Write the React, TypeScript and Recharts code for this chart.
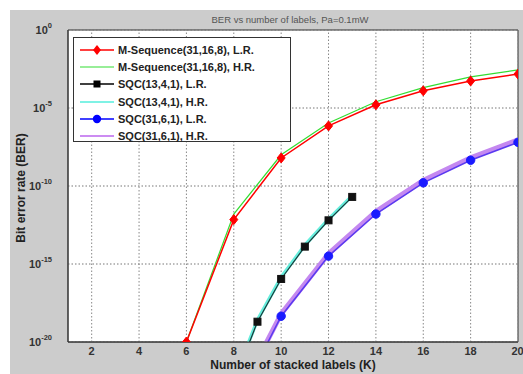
import React from 'react';
import { LineChart, Line, XAxis, YAxis, ReferenceArea, ReferenceLine } from 'recharts';

const xTicks = [2, 4, 6, 8, 10, 12, 14, 16, 18, 20];
const yTicks = [1e-20, 1e-15, 1e-10, 1e-5, 1];
const yTickExp = ['-20', '-15', '-10', '-5', '0'];

const title = 'BER vs number of labels, Pa=0.1mW';
const xLabel = 'Number of stacked labels (K)';
const yLabel = 'Bit error rate (BER)';

const mX = [6, 8, 10, 12, 14, 16, 18, 20];
const mLR = [1e-20, 7e-13, 6.3e-9, 7.1e-7, 1.6e-5, 1.26e-4, 5.4e-4, 1.5e-3];
const mHR = [1e-20, 1.6e-12, 1e-8, 1.1e-6, 2.5e-5, 2e-4, 1e-3, 2.75e-3];

const s13X = [8, 9, 10, 11, 12, 13];
const s13LR = [2.5e-23, 2.0e-19, 1.1e-16, 1.3e-14, 6.3e-13, 2e-11];
const s13HR = [3.5e-23, 2.6e-19, 1.4e-16, 1.6e-14, 7.5e-13, 2.4e-11];

const s31X = [8, 10, 12, 14, 16, 18, 20];
const s31LR = [5e-25, 4.5e-19, 3.2e-15, 1.6e-12, 1.6e-10, 4.5e-9, 6.3e-8];
const s31HR = [8e-25, 6.3e-19, 4.5e-15, 2.3e-12, 2.3e-10, 6.5e-9, 9e-8];

const legendNames = [
  'M-Sequence(31,16,8), L.R.',
  'M-Sequence(31,16,8), H.R.',
  'SQC(13,4,1), L.R.',
  'SQC(13,4,1), H.R.',
  'SQC(31,6,1), L.R.',
  'SQC(31,6,1), H.R.',
];

const toPts = (xs: number[], ys: number[]) => xs.map((x, i) => ({ x, y: ys[i] }));

const dMLR = toPts(mX, mLR);
const dMHR = toPts(mX, mHR);
const d13LR = toPts(s13X, s13LR);
const d13HR = toPts(s13X, s13HR);
const d31LR = toPts(s31X, s31LR);
const d31HR = toPts(s31X, s31HR);

const diamond = (color: string) => (p: any) => {
  const { cx, cy, index } = p;
  if (cx == null || cy == null) return <g key={index} />;
  return (
    <path key={index} d={`M${cx},${cy - 5}L${cx + 4},${cy}L${cx},${cy + 5}L${cx - 4},${cy}Z`} fill={color} stroke={color} />
  );
};
const square = (color: string) => (p: any) => {
  const { cx, cy, index } = p;
  if (cx == null || cy == null) return <g key={index} />;
  return <rect key={index} x={cx - 3.5} y={cy - 3.5} width={7} height={7} fill={color} stroke={color} />;
};
const circle = (color: string) => (p: any) => {
  const { cx, cy, index } = p;
  if (cx == null || cy == null) return <g key={index} />;
  return <circle key={index} cx={cx} cy={cy} r={4.2} fill={color} stroke={color} />;
};

const YTick = (props: any) => {
  const { x, y, index } = props;
  return (
    <text x={x - 8} y={y + 4} textAnchor="end" fontFamily="Liberation Sans, Arial, sans-serif" fontSize={11} fontWeight="bold" fill="#333">
      10
      <tspan dy={-6} fontSize={7.5}>{yTickExp[index]}</tspan>
    </text>
  );
};

const legendStyles = [
  { color: '#ff0000', w: 1.5, marker: 'diamond' },
  { color: '#33dd33', w: 1.2, marker: '' },
  { color: '#000000', w: 1.5, marker: 'square' },
  { color: '#55eedd', w: 1.5, marker: '' },
  { color: '#0000ff', w: 1.5, marker: 'circle' },
  { color: '#bb66ee', w: 1.5, marker: '' },
];

export default function App() {
  return (
    <div style={{ position: 'absolute', left: 0, top: 0, width: 523, height: 374, background: '#ffffff' }}>
      <div style={{ position: 'absolute', left: 10, top: 10, width: 513, height: 364, background: '#cccccc' }} />
      <div style={{ position: 'absolute', left: 0, top: 0 }}>
        <LineChart width={523} height={374} margin={{ top: 30, right: 5, bottom: 0, left: 0 }}>
          <ReferenceArea x1={1} x2={20} y1={1e-20} y2={1} fill="#ffffff" fillOpacity={1} stroke="#333" strokeWidth={1} ifOverflow="visible" />
          <XAxis
            type="number"
            dataKey="x"
            domain={[1, 20]}
            ticks={xTicks}
            allowDataOverflow
            height={32}
            tickLine={false}
            tickSize={3}
            tickMargin={2}
            axisLine={{ stroke: '#333' }}
            tick={{ fontSize: 11, fontWeight: 'bold', fill: '#333', fontFamily: 'Liberation Sans, Arial, sans-serif' }}
          />
          <YAxis
            type="number"
            dataKey="y"
            scale="log"
            domain={[1e-20, 1]}
            ticks={yTicks}
            allowDataOverflow
            width={68}
            tickLine={false}
            axisLine={{ stroke: '#333' }}
            tick={<YTick />}
          />
          {xTicks.map((t) => (
            <ReferenceLine key={`vx${t}`} x={t} stroke="#888" strokeDasharray="1.5 2" ifOverflow="visible" />
          ))}
          {yTicks.map((t) => (
            <ReferenceLine key={`hy${t}`} y={t} stroke="#777" strokeDasharray="1.5 2" ifOverflow="visible" />
          ))}
          <Line data={dMHR} dataKey="y" type="linear" stroke="#33dd33" strokeWidth={1.2} dot={false} isAnimationActive={false} />
          <Line data={dMLR} dataKey="y" type="linear" stroke="#ff0000" strokeWidth={1.5} dot={diamond('#ff0000')} isAnimationActive={false} />
          <Line data={d13HR} dataKey="y" type="linear" stroke="#66eedd" strokeWidth={3.5} dot={false} isAnimationActive={false} />
          <Line data={d13LR} dataKey="y" type="linear" stroke="#1a3a3a" strokeWidth={1.2} dot={square('#111')} isAnimationActive={false} />
          <Line data={d31HR} dataKey="y" type="linear" stroke="#c488f0" strokeWidth={5} dot={false} isAnimationActive={false} />
          <Line data={d31LR} dataKey="y" type="linear" stroke="#5a3af0" strokeWidth={1.5} dot={circle('#1a1aff')} isAnimationActive={false} />
        </LineChart>
      </div>
      <svg width={523} height={374} style={{ position: 'absolute', left: 0, top: 0, pointerEvents: 'none' }}>
        <text x={290} y={23} textAnchor="middle" fontSize={9.5} fill="#555" fontFamily="Liberation Sans, Arial, sans-serif">{title}</text>
        <text x={293} y={369} textAnchor="middle" fontSize={12} fontWeight="bold" fill="#222" fontFamily="Liberation Sans, Arial, sans-serif">{xLabel}</text>
        <text x={0} y={0} transform="translate(25,188) rotate(-90)" textAnchor="middle" fontSize={12} fontWeight="bold" fill="#222" fontFamily="Liberation Sans, Arial, sans-serif">{yLabel}</text>
      </svg>
      <div
        style={{
          position: 'absolute',
          left: 73,
          top: 37,
          width: 218,
          height: 105,
          border: '1px solid #333',
          background: '#ffffff',
          boxSizing: 'border-box',
          paddingTop: 3,
        }}
      >
        {legendNames.map((name, i) => {
          const st = legendStyles[i];
          return (
            <div key={name} style={{ display: 'flex', alignItems: 'center', height: 17.3 }}>
              <svg width={40} height={14} style={{ marginLeft: 4, flex: 'none' }}>
                <line x1={2} y1={7} x2={36} y2={7} stroke={st.color} strokeWidth={st.w} />
                {st.marker === 'diamond' && <path d="M19,2L23,7L19,12L15,7Z" fill={st.color} />}
                {st.marker === 'square' && <rect x={15.5} y={3.5} width={7} height={7} fill={st.color} />}
                {st.marker === 'circle' && <circle cx={19} cy={7} r={4.2} fill={st.color} />}
              </svg>
              <span style={{ fontFamily: 'Liberation Sans, Arial, sans-serif', fontSize: 11, fontWeight: 'bold', color: '#222', whiteSpace: 'nowrap' }}>{name}</span>
            </div>
          );
        })}
      </div>
    </div>
  );
}
